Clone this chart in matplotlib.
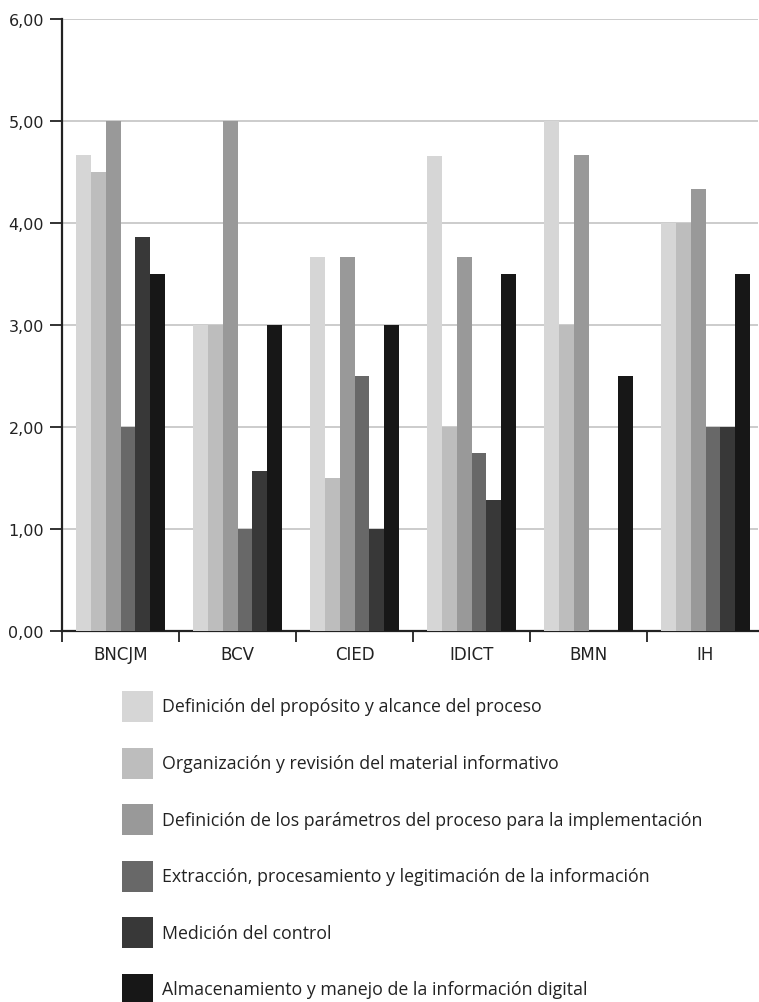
import matplotlib
matplotlib.use("Agg")
import matplotlib.pyplot as plt
import numpy as np
from matplotlib.ticker import FixedLocator, FuncFormatter
from matplotlib.patches import Rectangle

plt.rcParams['font.family'] = ['DejaVu Sans']

categories = ["BNCJM", "BCV", "CIED", "IDICT", "BMN", "IH"]
series_names = [
    "Definición del propósito y alcance del proceso",
    "Organización y revisión del material informativo",
    "Definición de los parámetros del proceso para la implementación",
    "Extracción, procesamiento y legitimación de la información",
    "Medición del control",
    "Almacenamiento y manejo de la información digital",
]
proposito = [4.67, 3.00, 3.67, 4.66, 5.00, 4.00]
organizacion = [4.50, 3.00, 1.50, 2.00, 3.00, 4.00]
parametros = [5.00, 5.00, 3.67, 3.67, 4.67, 4.33]
extraccion = [2.00, 1.00, 2.50, 1.75, 0.00, 2.00]
medicion = [3.86, 1.57, 1.00, 1.28, 0.00, 2.00]
almacenamiento = [3.50, 3.00, 3.00, 3.50, 2.50, 3.50]
series = [proposito, organizacion, parametros, extraccion, medicion, almacenamiento]
colors = ["#d6d6d6", "#bdbdbd", "#999999", "#686868", "#383838", "#171717"]
yticks = [0, 1, 2, 3, 4, 5, 6]

W, H, DPI = 759, 1003, 100
fig = plt.figure(figsize=(W / DPI, H / DPI), dpi=DPI)
ax = fig.add_axes([62 / W, 1 - 632 / H, (758 - 62) / W, (632 - 20) / H])

x = np.arange(len(categories))
bw = 0.128
for i, (vals, c, name) in enumerate(zip(series, colors, series_names)):
    off = (i - 2.5) * bw
    ax.bar(x + off, vals, width=bw, color=c, edgecolor='none', label=name, zorder=3)

ax.set_ylim(0, 6)
ax.set_xlim(-0.5, -0.5 + (758 - 62) / 117)
ax.yaxis.set_major_locator(FixedLocator(yticks))
ax.yaxis.set_major_formatter(FuncFormatter(lambda v, p: f"{v:.2f}".replace(".", ",")))
ax.grid(axis='y', color='#cccccc', linewidth=1.4, zorder=0)
ax.set_axisbelow(True)

ax.set_xticks(x)
ax.set_xticklabels(categories)
ax.set_xticks(np.arange(len(categories)) - 0.5, minor=True)
ax.tick_params(axis='x', which='major', length=0, pad=10, labelsize=12, labelcolor='#222222')
ax.tick_params(axis='x', which='minor', length=8, width=1.3, direction='out', color='#222222')
ax.tick_params(axis='y', length=9, width=1.3, pad=4, labelsize=11.5, color='#222222',
               labelcolor='#222222')

for s in ['top', 'right']:
    ax.spines[s].set_visible(False)
for s in ['left', 'bottom']:
    ax.spines[s].set_linewidth(1.6)
    ax.spines[s].set_color('#222222')

# legend drawn in figure pixel space
lx0, ly0, sq, step = 122, 692, 31, 56.6
for i, (c, name) in enumerate(zip(colors, series_names)):
    top = ly0 + i * step
    fig.add_artist(Rectangle((lx0 / W, 1 - (top + sq) / H), sq / W, sq / H,
                             transform=fig.transFigure, facecolor=c, edgecolor='none'))
    fig.text(161.7 / W, 1 - (top + sq / 2) / H, name, ha='left', va='center',
             fontsize=12.75, family=['Open Sans', 'DejaVu Sans'], color='#222222')

fig.savefig("out.png", dpi=DPI)
